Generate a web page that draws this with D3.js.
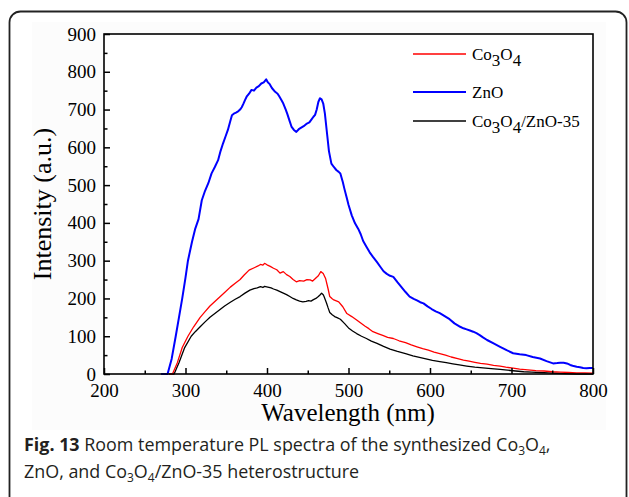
<!DOCTYPE html>
<html><head><meta charset="utf-8">
<script src="https://cdn.jsdelivr.net/npm/d3@7"></script>
<style>body{margin:0;background:#fff}svg{display:block}</style>
</head><body><script>
// ---- data ----
const xMajorTicks = [200, 300, 400, 500, 600, 700, 800];
const xMinorTicks = [250, 350, 450, 550, 650, 750];
const yMajorTicks = [0, 100, 200, 300, 400, 500, 600, 700, 800, 900];
const yMinorTicks = [50, 150, 250, 350, 450, 550, 650, 750, 850];
const seriesColors = ["#ff0000", "#0000ff", "#000000"];

const co3o4 = [[280,0],[284,0],[290,30],[296,70],[303,100],[310,125],[318,150],[324,165],[330,180],[336,192],[342,204],[348,216],[355,230],[361,240],[367,250],[372,262],[378,275],[385,282],[389,286],[392,290],[395,288],[397,293],[400,289],[404,285],[408,280],[412,276],[416,267],[420,271],[424,263],[428,258],[432,250],[436,244],[440,247],[445,246],[449,250],[453,249],[456,246],[459,252],[463,260],[466,271],[469,266],[472,252],[475,225],[477,205],[480,199],[482,196],[488,191],[493,178],[498,160],[504,152],[510,143],[515,135],[520,127],[525,120],[530,112],[536,107],[542,102],[548,97],[555,94],[562,88],[570,83],[577,77],[584,72],[591,67],[598,63],[605,58],[612,54],[619,50],[626,45],[634,41],[641,37],[648,34],[655,31],[662,28],[670,26],[678,23],[686,21],[693,18],[700,16],[710,13],[720,11],[730,9],[740,8],[750,6],[760,5],[770,4],[780,3],[790,3],[800,2]];

const zno = [[270,0],[278,0],[283,40],[288,100],[292,150],[296,200],[300,255],[303,300],[308,350],[312,385],[316,410],[320,460],[324,485],[328,505],[332,531],[336,548],[340,566],[343,590],[346,610],[349,628],[352,646],[355,670],[357,685],[360,690],[362,692],[365,696],[367,700],[369,706],[371,715],[373,725],[375,734],[378,742],[381,752],[384,750],[387,758],[390,762],[393,769],[396,772],[399,780],[401,772],[403,768],[406,757],[410,747],[413,742],[415,735],[418,724],[420,716],[423,700],[425,688],[428,668],[430,655],[433,646],[436,641],[439,648],[442,652],[445,656],[449,663],[452,666],[454,672],[457,681],[459,686],[461,700],[463,720],[465,730],[467,727],[469,716],[471,690],[474,630],[476,590],[479,557],[482,548],[485,540],[488,535],[490,531],[493,508],[495,490],[498,465],[500,448],[504,420],[508,399],[512,384],[515,370],[518,352],[522,337],[526,322],[530,310],[535,296],[539,284],[543,272],[547,265],[551,260],[555,257],[560,243],[565,230],[570,217],[575,205],[580,199],[584,195],[588,190],[592,187],[597,179],[602,172],[607,166],[612,161],[618,153],[624,145],[630,134],[637,125],[641,121],[645,118],[649,115],[653,112],[657,108],[661,103],[665,97],[670,90],[678,81],[686,72],[694,63],[702,55],[710,52],[718,50],[726,45],[735,41],[743,34],[751,28],[756,29],[760,30],[764,30],[768,28],[772,24],[775,22],[780,19],[784,18],[788,16],[792,15],[796,16],[800,16]];

const composite = [[280,0],[286,0],[292,30],[299,70],[307,100],[312,112],[318,125],[324,138],[330,150],[336,160],[342,170],[348,180],[355,190],[361,198],[367,205],[373,214],[379,222],[384,226],[388,228],[392,231],[395,229],[397,232],[401,230],[405,228],[408,225],[412,222],[416,218],[420,214],[424,210],[428,205],[432,200],[436,196],[440,193],[444,191],[448,192],[451,194],[454,193],[457,197],[460,200],[463,205],[465,209],[467,214],[469,210],[470,205],[473,188],[475,175],[477,163],[480,157],[483,152],[486,149],[490,145],[495,134],[500,122],[505,114],[510,107],[516,100],[522,94],[528,87],[535,81],[539,77],[543,73],[551,66],[560,60],[570,54],[579,48],[587,44],[595,40],[603,36],[612,33],[620,30],[628,27],[636,24],[645,21],[655,18],[665,16],[675,14],[686,12],[695,10],[705,8],[715,6],[725,5],[735,4],[745,3],[755,2],[765,1],[780,0],[800,0]];

const seriesData = [co3o4, zno, composite];

// ---- drawing ----
const W = 629, H = 497;
const svg = d3.select("body").append("svg").attr("width", W).attr("height", H);

svg.append("rect").attr("x", 0).attr("y", 0).attr("width", W).attr("height", H).attr("fill", "#fff");
svg.append("rect").attr("x", 32).attr("y", 22).attr("width", 574).attr("height", 408).attr("fill", "#fcfcfc");

// outer rounded border
svg.append("rect").attr("x", 9.5).attr("y", 11.5).attr("width", 617).attr("height", 500)
  .attr("rx", 11).attr("fill", "none").attr("stroke", "#222").attr("stroke-width", 1.8);

const x = d3.scaleLinear().domain([200, 800]).range([104, 593]);
const y = d3.scaleLinear().domain([0, 900]).range([374, 34]);

const serif = "'Liberation Serif','Times New Roman',serif";

// plot background
svg.append("rect").attr("x", x(200)).attr("y", y(900))
  .attr("width", x(800) - x(200)).attr("height", y(0) - y(900))
  .attr("fill", "#fff").attr("stroke", "none");

// curves
const line = d3.line().x(d => x(d[0])).y(d => y(d[1]));
const widths = [1.3, 2, 1.3];
const order = [2, 0, 1];
order.forEach(i => {
  svg.append("path").datum(seriesData[i]).attr("d", line)
    .attr("fill", "none").attr("stroke", seriesColors[i])
    .attr("stroke-width", widths[i]).attr("stroke-linejoin", "round");
});

// axes
const gx = svg.append("g").attr("transform", `translate(0,${y(0)})`)
  .call(d3.axisBottom(x).tickValues(xMajorTicks).tickSize(-6).tickPadding(9.5).tickFormat(d3.format("d")));
const gxm = svg.append("g").attr("transform", `translate(0,${y(0)})`)
  .call(d3.axisBottom(x).tickValues(xMinorTicks).tickSize(-3.5).tickFormat(""));
const gy = svg.append("g").attr("transform", `translate(${x(200)},0)`)
  .call(d3.axisLeft(y).tickValues(yMajorTicks).tickSize(-6).tickPadding(8).tickFormat(d3.format("d")));
const gym = svg.append("g").attr("transform", `translate(${x(200)},0)`)
  .call(d3.axisLeft(y).tickValues(yMinorTicks).tickSize(-3.5).tickFormat(""));
[gx, gxm, gy, gym].forEach(g => {
  g.select(".domain").remove();
  g.selectAll("line").attr("stroke", "#000").attr("stroke-width", 1.5);
  g.selectAll("text").attr("font-family", serif).attr("font-size", 19).attr("fill", "#000");
});

svg.append("rect").attr("x", x(200)).attr("y", y(900))
  .attr("width", x(800) - x(200)).attr("height", y(0) - y(900))
  .attr("fill", "none").attr("stroke", "#000").attr("stroke-width", 1.6);

// axis titles
svg.append("text").attr("x", 348).attr("y", 421).attr("text-anchor", "middle")
  .attr("font-family", serif).attr("font-size", 25).attr("fill", "#000").text("Wavelength (nm)");
svg.append("text").attr("transform", "translate(51,204) rotate(-90)").attr("text-anchor", "middle")
  .attr("font-family", serif).attr("font-size", 26).attr("fill", "#000").text("Intensity (a.u.)");

// legend
const legendRows = [
  {y: 54, parts: [["Co",0],["3",1],["O",0],["4",1]]},
  {y: 92, parts: [["ZnO",0]]},
  {y: 121, parts: [["Co",0],["3",1],["O",0],["4",1],["/ZnO-35",0]]}
];
legendRows.forEach((r, i) => {
  svg.append("line").attr("x1", 413).attr("x2", 466).attr("y1", r.y).attr("y2", r.y)
    .attr("stroke", seriesColors[i]).attr("stroke-width", i === 1 ? 2 : 1.4);
  const t = svg.append("text").attr("x", 472).attr("y", r.y + 6)
    .attr("font-family", serif).attr("font-size", 17).attr("fill", "#000");
  let sub = false;
  r.parts.forEach(([s, isSub]) => {
    const dy = isSub && !sub ? 6 : (!isSub && sub ? -6 : 0);
    t.append("tspan").attr("dy", dy).text(s);
    sub = !!isSub;
  });
});

// caption
const capFont = "'Open Sans','Noto Sans',sans-serif";
function caption(yPos, parts) {
  const t = svg.append("text").attr("x", 24).attr("y", yPos).attr("font-family", capFont)
    .attr("font-size", 17.9).attr("fill", "#231f20");
  let sub = false;
  parts.forEach(([s, kind]) => {
    const isSub = kind === "sub";
    const dy = isSub && !sub ? 3.5 : (!isSub && sub ? -3.5 : 0);
    const ts = t.append("tspan").attr("dy", dy).text(s);
    if (isSub) ts.attr("font-size", 12);
    if (kind === "bold") ts.attr("font-weight", "bold");
    sub = isSub;
  });
  return t;
}
caption(451, [["Fig. 13","bold"],[" Room temperature PL spectra of the synthesized Co",""],["3","sub"],["O",""],["4","sub"],[",",""]]);
caption(478, [["ZnO, and Co",""],["3","sub"],["O",""],["4","sub"],["/ZnO-35 heterostructure",""]]);
</script></body></html>
